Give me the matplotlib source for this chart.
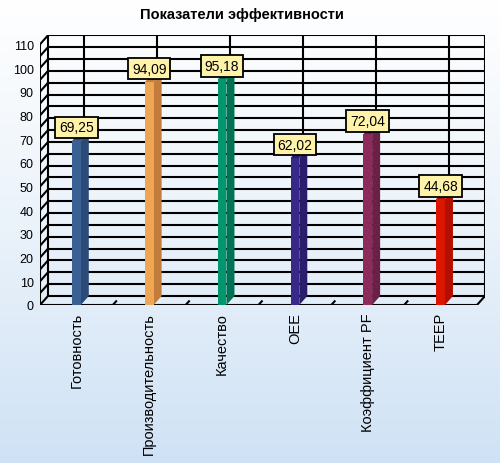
import matplotlib
matplotlib.use('Agg')
import matplotlib.pyplot as plt
import numpy as np
from matplotlib.colors import LinearSegmentedColormap

categories = ['Готовность', 'Производительность', 'Качество', 'OEE', 'Коэффициент PF', 'TEEP']
values = [69.25, 94.09, 95.18, 62.02, 72.04, 44.68]
value_labels = ['69,25', '94,09', '95,18', '62,02', '72,04', '44,68']
front_colors = ['#3A6194', '#F0A552', '#00966E', '#382988', '#8C2A5C', '#DC1500']
side_colors = ['#2C4A78', '#C27C3C', '#007355', '#2A1E6C', '#6C1F46', '#B20F00']
y_ticks = list(range(0, 111, 10))
grid_vals = list(range(0, 111, 5))
title = 'Показатели эффективности'

plt.rcParams['font.family'] = ['Liberation Sans', 'DejaVu Sans']
plt.rcParams['hatch.linewidth'] = 0.6

W, H = 500, 464
fig = plt.figure(figsize=(W / 100, H / 100), dpi=100)

# background gradient
bg = fig.add_axes([0, 0, 1, 1])
bg.set_axis_off()
grad = np.linspace(0, 1, 256).reshape(-1, 1)
cmap = LinearSegmentedColormap.from_list('bg', ['#ffffff', '#eaf2fa', '#cfe2f5'])
bg.imshow(grad, aspect='auto', cmap=cmap, extent=[0, 1, 0, 1], origin='upper')

# depth offsets in data units
DX = 0.11
DY = 3.8
BW = 0.12

left_px, right_px = 40, 485
bottom_px, top_px = 306, 36.3
ax = fig.add_axes([left_px / W, (H - bottom_px) / H, (right_px - left_px) / W, (bottom_px - top_px) / H])
ax.set_xlim(-0.5, 5.5 + DX)
ax.set_ylim(0, 110 + DY)
ax.patch.set_alpha(0)
for s in ax.spines.values():
    s.set_visible(False)

ax.set_yticks(y_ticks)
ax.set_yticklabels([str(v) for v in y_ticks], fontsize=9)
ax.set_xticks(range(len(categories)))
ax.set_xticklabels(categories, rotation=90, fontsize=10.5, va='top', ha='center')
ax.tick_params(axis='y', length=0, pad=4.5)
ax.tick_params(axis='x', length=0, pad=5)

lw = 1.5
kw = dict(color='black', lw=lw, zorder=1, solid_capstyle='butt')
xl, xr = -0.5, 5.5
# back wall horizontal gridlines and left wall slants
for v in grid_vals:
    ax.plot([xl + DX, xr + DX], [v + DY, v + DY], **kw)
    ax.plot([xl, xl + DX], [v, v + DY], **kw)
# back wall vertical gridlines at category centers
for i in range(len(categories)):
    ax.plot([i + DX, i + DX], [DY, 110 + DY], **kw)
# frame edges
ax.plot([xl, xl], [0, 110], **kw)
ax.plot([xl + DX, xl + DX], [DY, 110 + DY], **kw)
ax.plot([xr + DX, xr + DX], [DY, 110 + DY], **kw)
ax.plot([xl, xr], [0, 0], **kw)
ax.plot([xr, xr + DX], [0, DY], **kw)
# category boundary ticks on the floor
for b in np.arange(0.5, 5.5, 1.0):
    ax.plot([b, b + DX * 0.5], [0, DY * 0.5], **kw)

# bars
for i, (v, fc, sc) in enumerate(zip(values, front_colors, side_colors)):
    x0, x1 = i - BW / 2, i + BW / 2
    ax.fill([x1, x1 + DX, x1 + DX, x1], [0, DY, v + DY, v], color=sc, lw=0, zorder=3)
    ax.fill([x0, x1, x1 + DX, x0 + DX], [v, v, v + DY, v + DY], color=sc, lw=0, zorder=3)
    ax.fill([x0, x1, x1, x0], [0, 0, v, v], color=fc, lw=0, zorder=4)
    if i == 4:
        ax.fill([x0, x1, x1, x0], [0, 0, v, v], facecolor='none', edgecolor='#953260',
                hatch='....', lw=0, zorder=4.5)
        ax.fill([x1, x1 + DX, x1 + DX, x1], [0, DY, v + DY, v], facecolor='none',
                edgecolor='#75244D', hatch='....', lw=0, zorder=4.5)

# data labels
for i, (v, lab) in enumerate(zip(values, value_labels)):
    ax.annotate(lab, xy=(i, v), xytext=(0, 9.7), textcoords='offset points',
                ha='center', va='center', fontsize=10, zorder=6,
                bbox=dict(boxstyle='square,pad=0.28', fc='#FFF3AA', ec='black', lw=1.3))

fig.text(242 / W, 1 - 15 / H, title, ha='center', va='center', fontsize=10.5, fontweight='bold')

fig.savefig('out.png', dpi=100)
